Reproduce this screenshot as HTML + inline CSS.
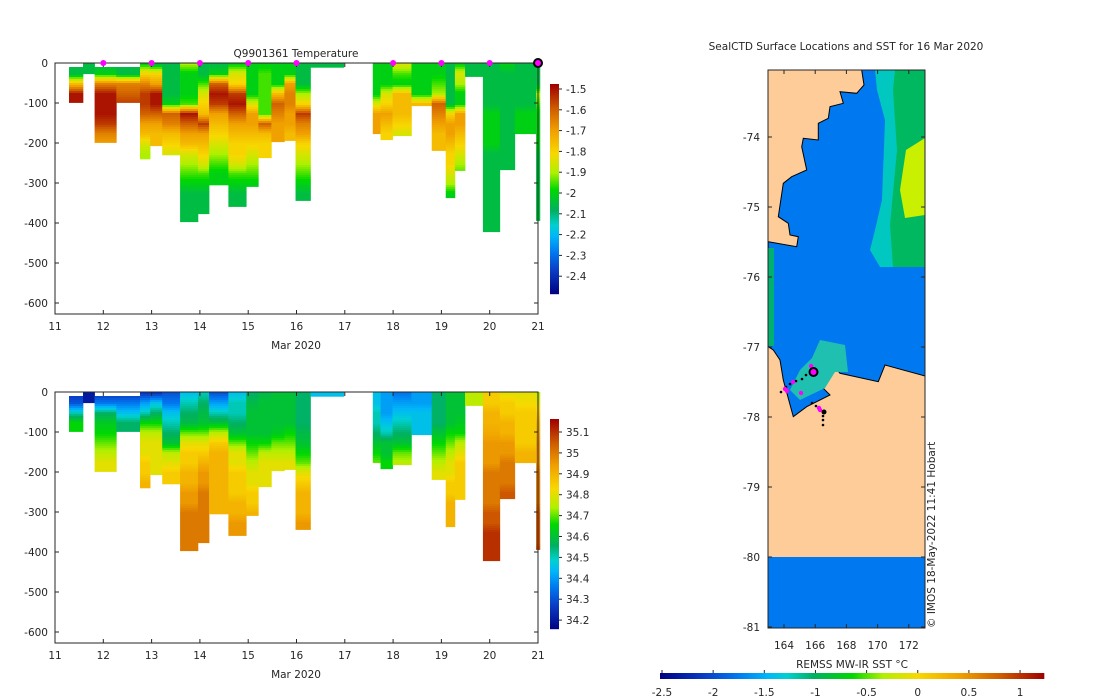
<!DOCTYPE html>
<html><head><meta charset="utf-8"><style>
body{margin:0;background:#fff;}
svg{display:block;font-family:"DejaVu Sans","Liberation Sans",sans-serif;}
text{fill:#262626;font-size:10.5px;}
</style></head><body>
<svg id="svg" width="1100" height="700" viewBox="0 0 1100 700">
<g id="top"></g>
<g id="bot"></g>
<g id="map"></g>
</svg>
<script>
// ---- section data ----
const colStart=[11.29,11.58,11.82,12.27,12.76,12.97,13.22,13.59,13.96,14.19,14.59,14.96,15.21,15.48,15.75,15.98,16.29,17.58,17.74,17.99,18.38,18.80,19.09,19.28,19.49,19.86,20.21,20.52,20.96];
const colEnd=[11.58,11.82,12.27,12.76,12.97,13.22,13.59,13.96,14.19,14.59,14.96,15.21,15.48,15.75,15.98,16.29,16.98,17.74,17.99,18.38,18.80,19.09,19.28,19.49,19.86,20.21,20.52,20.96,21.04];
const colTop=[10,0,10,10,0,0,0,0,0,0,0,0,0,0,0,0,0,0,0,0,0,0,0,0,0,0,0,0,0];
const colBottom=[99,27,199,99,240,207,230,397,377,305,359,309,237,197,194,344,11,177,192,182,107,219,337,269,34,422,267,177,394];
// values every 25 m
const tempProfiles=[
[-2.05,-2.05,-1.75,-1.5,-1.5],
[-2.05,-2.05],
[-2.05,-2.0,-1.65,-1.5,-1.5,-1.5,-1.55,-1.65,-1.7],
[-2.05,-2.05,-1.65,-1.6,-1.55],
[-2.0,-1.8,-1.65,-1.55,-1.55,-1.6,-1.7,-1.75,-1.85,-1.9],
[-2.05,-1.8,-1.7,-1.5,-1.5,-1.6,-1.7,-1.75,-1.75],
[-2.05,-2.05,-2.05,-2.05,-2.0,-1.6,-1.65,-1.75,-1.8,-1.85],
[-1.9,-2.0,-2.0,-2.0,-1.95,-1.5,-1.6,-1.7,-1.75,-1.85,-1.9,-1.95,-2.0,-2.05,-2.05,-2.05,-2.05],
[-2.05,-2.05,-1.95,-1.85,-1.8,-1.75,-1.55,-1.7,-1.75,-1.8,-1.85,-1.95,-2.0,-2.05,-2.05,-2.05],
[-2.05,-2.0,-1.6,-1.5,-1.55,-1.7,-1.75,-1.8,-1.85,-1.9,-1.95,-2.0,-2.0],
[-2.0,-1.85,-1.8,-1.55,-1.5,-1.6,-1.7,-1.75,-1.8,-1.8,-1.85,-1.95,-2.0,-2.05,-2.05],
[-2.0,-2.0,-2.0,-2.0,-1.85,-1.7,-1.7,-1.75,-1.8,-1.85,-1.9,-1.95,-2.0],
[-2.0,-1.95,-1.95,-1.95,-1.95,-1.95,-1.6,-1.75,-1.8,-1.8],
[-2.0,-2.0,-2.0,-1.75,-1.6,-1.65,-1.7,-1.7],
[-2.0,-2.0,-1.7,-1.65,-1.65,-1.7,-1.7,-1.75],
[-2.05,-2.05,-2.05,-1.9,-1.8,-1.55,-1.65,-1.7,-1.8,-1.85,-1.9,-1.95,-2.0,-2.05,-2.05],
[-2.05,-2.05],
[-2.0,-2.0,-2.0,-2.0,-1.85,-1.7,-1.7,-1.7],
[-2.0,-2.0,-2.0,-1.85,-1.8,-1.7,-1.75,-1.8],
[-1.85,-1.95,-2.0,-1.75,-1.75,-1.75,-1.8,-1.85],
[-2.0,-2.0,-2.0,-2.0,-1.75],
[-2.0,-2.0,-1.95,-1.9,-1.6,-1.65,-1.7,-1.75,-1.75],
[-2.05,-2.05,-2.05,-2.05,-2.05,-1.8,-1.7,-1.7,-1.75,-1.8,-1.8,-1.85,-1.9,-2.0],
[-2.0,-1.85,-1.9,-2.0,-2.0,-1.7,-1.7,-1.75,-1.8,-1.85,-1.9,-1.95],
[-2.05,-2.05],
[-2.05,-2.05,-2.05,-2.05,-2.05,-2.0,-2.0,-2.0,-2.0,-2.05,-2.05,-2.05,-2.05,-2.05,-2.05,-2.05,-2.05,-2.05],
[-2.0,-2.05,-2.05,-2.05,-2.05,-2.05,-2.05,-2.05,-2.05,-2.05,-2.05,-2.05],
[-2.05,-2.05,-2.05,-2.05,-2.05,-2.0,-2.0,-2.0],
[-2.05,-2.05,-2.05,-1.9,-1.95,-2.0,-2.0,-2.0,-2.0,-2.05,-2.05,-2.05,-2.05,-2.05,-2.05,-2.05,-2.05]
];
const salProfiles=[
[34.25,34.3,34.5,34.65,34.65],
[34.2,34.2],
[34.25,34.35,34.55,34.62,34.65,34.7,34.75,34.8,34.8],
[34.25,34.35,34.45,34.55,34.55],
[34.25,34.4,34.5,34.65,34.75,34.8,34.8,34.85,34.85,34.9],
[34.25,34.45,34.55,34.65,34.75,34.8,34.8,34.8,34.8],
[34.3,34.35,34.45,34.5,34.55,34.6,34.75,34.8,34.85,34.85],
[34.45,34.5,34.55,34.58,34.7,34.8,34.85,34.85,34.9,34.9,34.95,34.95,35.0,35.0,35.0,35.0,35.0],
[34.5,34.55,34.58,34.6,34.7,34.8,34.85,34.9,34.95,34.95,35.0,35.0,35.0,35.0,35.0,35.0],
[34.3,34.4,34.5,34.6,34.75,34.85,34.9,34.9,34.9,34.9,34.9,34.9,34.9],
[34.45,34.5,34.5,34.55,34.6,34.7,34.8,34.8,34.85,34.85,34.85,34.9,34.9,34.95,34.95],
[34.55,34.58,34.6,34.6,34.6,34.65,34.7,34.75,34.8,34.8,34.85,34.85,34.9],
[34.58,34.6,34.6,34.6,34.6,34.65,34.75,34.8,34.8,34.8],
[34.6,34.6,34.6,34.6,34.62,34.7,34.75,34.8],
[34.6,34.6,34.6,34.6,34.65,34.7,34.75,34.8],
[34.55,34.55,34.55,34.55,34.58,34.6,34.65,34.7,34.8,34.85,34.9,34.9,34.9,34.95,34.95],
[34.45,34.45],
[34.45,34.45,34.5,34.5,34.55,34.6,34.65,34.7],
[34.4,34.4,34.4,34.45,34.5,34.6,34.6,34.65],
[34.35,34.4,34.45,34.5,34.55,34.6,34.7,34.75],
[34.4,34.4,34.45,34.45,34.45],
[34.55,34.55,34.55,34.55,34.6,34.65,34.7,34.75,34.8],
[34.6,34.6,34.6,34.6,34.65,34.7,34.75,34.8,34.8,34.85,34.85,34.9,34.9,34.9],
[34.6,34.6,34.6,34.62,34.65,34.75,34.8,34.85,34.85,34.85,34.85,34.85],
[34.75,34.75],
[34.85,34.85,34.9,34.9,34.92,34.95,34.95,34.95,35.0,35.0,35.0,35.0,35.05,35.05,35.1,35.1,35.1,35.1],
[34.8,34.85,34.85,34.9,34.9,34.95,34.95,35.0,35.0,35.0,35.05,35.05],
[34.8,34.82,34.85,34.85,34.85,34.85,34.9,34.9],
[34.75,34.8,34.85,34.9,34.92,34.95,34.95,34.95,35.0,35.0,35.0,35.0,35.05,35.05,35.05,35.05,35.1]
];
const dayTicks=[11,12,13,14,15,16,17,18,19,20,21];
const depthTicks=[0,-100,-200,-300,-400,-500,-600];
const tempTicks=[-1.5,-1.6,-1.7,-1.8,-1.9,-2,-2.1,-2.2,-2.3,-2.4];
const salTicks=[35.1,35,34.9,34.8,34.7,34.6,34.5,34.4,34.3,34.2];
const surfaceDays=[12,13,14,15,16,18,19,20];
const sstTicks=[-2.5,-2,-1.5,-1,-0.5,0,0.5,1];
const lonTicks=[164,166,168,170,172];
const latTicks=[-74,-75,-76,-77,-78,-79,-80,-81];

const NS='http://www.w3.org/2000/svg';
function el(parent,tag,attrs,txt){const e=document.createElementNS(NS,tag);for(const k in attrs)e.setAttribute(k,attrs[k]);if(txt!==undefined)e.textContent=txt;parent.appendChild(e);return e;}
const stops=[[0,[0,0,128]],[0.12,[10,64,200]],[0.2,[0,120,240]],[0.28,[0,184,248]],[0.33,[0,208,208]],[0.4,[0,176,96]],[0.5,[0,216,0]],[0.58,[176,240,0]],[0.67,[248,216,0]],[0.78,[240,160,0]],[0.88,[208,96,0]],[1,[160,0,0]]];
function cmap(t){t=Math.max(0,Math.min(1,t));for(let i=1;i<stops.length;i++){if(t<=stops[i][0]){const a=stops[i-1],b=stops[i];const f=(t-a[0])/(b[0]-a[0]);const c=a[1].map((v,j)=>Math.round(v+(b[1][j]-v)*f));return `rgb(${c})`;}}return 'rgb(160,0,0)';}

function section(g,y0,vals,vmin,vmax,cbTicks,cbY0,pxPerUnit,refV,dots){
  const xL=55,xR=538,yB=y0+251;
  const xs=d=>xL+(d-11)*(xR-xL)/10;
  const ys=z=>y0+(-z)*0.4;
  for(let i=0;i<colStart.length;i++){
    const prof=vals[i];
    for(let d=colTop[i];d<colBottom[i];d+=5){
      const k=d/25, k0=Math.min(Math.floor(k),prof.length-1),k1=Math.min(k0+1,prof.length-1),f=k-Math.floor(k);
      const v=prof[k0]+(prof[k1]-prof[k0])*Math.min(f,1);
      const r=el(g,'rect',{x:xs(colStart[i]),y:ys(-d),width:xs(colEnd[i])-xs(colStart[i])+0.3,height:Math.min(5,colBottom[i]-d)*0.4+0.3,fill:cmap((v-vmin)/(vmax-vmin))});
      
      
    }
  }
  el(g,'rect',{x:xL,y:y0,width:xR-xL,height:yB-y0,fill:'none',stroke:'#262626','stroke-width':1,});
  dayTicks.forEach(d=>{const x=xs(d);el(g,'line',{x1:x,x2:x,y1:yB,y2:yB-4,stroke:'#262626'});el(g,'line',{x1:x,x2:x,y1:y0,y2:y0+4,stroke:'#262626'});
    const t=el(g,'text',{x:x,y:yB+16,'text-anchor':'middle'},d);});
  depthTicks.forEach(z=>{const y=ys(z);el(g,'line',{x1:xL,x2:xL+4,y1:y,y2:y,stroke:'#262626'});el(g,'line',{x1:xR,x2:xR-4,y1:y,y2:y,stroke:'#262626'});
    const t=el(g,'text',{x:xL-7,y:y+4,'text-anchor':'end'},z);});
  el(g,'text',{x:296,y:yB+35,'text-anchor':'middle',},'Mar 2020');
  const cbTop=cbY0, cbH=210;
  for(let j=0;j<cbH;j++){el(g,'rect',{x:550,y:cbTop+j,width:9,height:1.2,fill:cmap(1-j/cbH)});}
  cbTicks.forEach(v=>{const y=refV(v);el(g,'line',{x1:559,x2:562,y1:y,y2:y,stroke:'#262626'});
    const t=el(g,'text',{x:566,y:y+4},v);});
  if(dots){dots.forEach(d=>{const c=el(g,'circle',{cx:xs(d),cy:y0,r:3,fill:'#ff00ff'});});
    el(g,'circle',{cx:xs(21),cy:y0,r:4,fill:'#ff00ff',stroke:'#000','stroke-width':2,});}
}
const gT=document.getElementById('top');
el(gT,'text',{x:296,y:57,'text-anchor':'middle',},'Q9901361  Temperature');
section(gT,63,tempProfiles,-2.485,-1.475,tempTicks,84,208,v=>89+(-1.5-v)*208,surfaceDays);
const gB=document.getElementById('bot');
section(gB,392,salProfiles,34.15,35.16,salTicks,419,209,v=>432+(35.1-v)*209,null);

// ---- map ----
const gM=document.getElementById('map');
const lx=lon=>784+(lon-164)*15.6, ly=lat=>137+(-74-lat)*70;
el(gM,'text',{x:846,y:50,'text-anchor':'middle',},'SealCTD Surface Locations and SST for 16 Mar 2020');
el(gM,'rect',{x:768,y:70,width:157,height:558,fill:'#fecc99',});
const water='861.7,70 864,85 856.7,93.3 840,91.7 843.3,103.3 830,106.7 828.3,118.3 818.3,123.3 818.3,140 803.3,138.3 801.7,146.7 806.7,170 791.7,176.7 783.3,183.3 778.3,216.7 788.3,223.3 790,235 798.3,236.7 796.7,246.7 768.3,241.7 768.3,346.7 773.3,350 780,360 783.3,380 793.3,416.7 806.7,406.7 830,395 823.3,388.3 820,365 828.3,358.3 840,373.3 878.3,381.7 885,365 925,376 925,70';
el(gM,'polygon',{points:water,fill:'#0078f0',stroke:'#000','stroke-width':1,});
el(gM,'polygon',{points:'875,70 925,70 925,267 880,267 870,250 875,230 882,200 885,120 877,90',fill:'#00c8c0',});
el(gM,'polygon',{points:'895,70 925,70 925,267 893,267 890,225 897,150 893,90',fill:'#00b860',});
el(gM,'polygon',{points:'906,150 925,138 925,215 905,218 900,190',fill:'#c8f000',});
el(gM,'rect',{x:768,y:248,width:6,height:98,fill:'#00b070'});
el(gM,'polygon',{points:'820,340 845,345 848,372 835,372 825,388 800,400 790,390 800,370 812,358',fill:'#20c0b0',});
el(gM,'rect',{x:768,y:557,width:157,height:71,fill:'#0078f0',});
el(gM,'rect',{x:768,y:70,width:157,height:558,fill:'none',stroke:'#262626',});
latTicks.forEach(l=>{const y=ly(l);el(gM,'line',{x1:768,x2:772,y1:y,y2:y,stroke:'#262626'});el(gM,'line',{x1:925,x2:921,y1:y,y2:y,stroke:'#262626'});
  const t=el(gM,'text',{x:760,y:y+4,'text-anchor':'end'},l);});
lonTicks.forEach(l=>{const x=lx(l);el(gM,'line',{x1:x,x2:x,y1:628,y2:624,stroke:'#262626'});el(gM,'line',{x1:x,x2:x,y1:70,y2:74,stroke:'#262626'});
  const t=el(gM,'text',{x:x,y:649,'text-anchor':'middle'},l);});
[[790,384],[796,381],[802,379],[806,375],[786,387],[781,392],[812,403],[816,406],[823,416],[823,420],[823,425]].forEach(p=>{el(gM,'circle',{cx:p[0],cy:p[1],r:1.3,fill:'#000',});});
[[811,366],[793,382],[785,389],[787,391],[801,393],[819,408],[820,410]].forEach(p=>{el(gM,'circle',{cx:p[0],cy:p[1],r:2.2,fill:'#ff00ff',});});
el(gM,'circle',{cx:824,cy:412,r:2.5,fill:'#000'});
el(gM,'circle',{cx:813.5,cy:372,r:4,fill:'#ff00ff',stroke:'#000','stroke-width':2,});
el(gM,'text',{x:0,y:0,transform:'translate(935,628) rotate(-90)','font-size':'10',},'© IMOS 18-May-2022 11:41 Hobart');
el(gM,'text',{x:852,y:668,'text-anchor':'middle',},'REMSS MW-IR SST °C');
const cx=v=>662+(v+2.5)*102.3;
for(let j=0;j<384;j++){el(gM,'rect',{x:660+j,y:673,width:1.3,height:6,fill:cmap(j/384)});}
sstTicks.forEach(v=>{const x=cx(v);el(gM,'line',{x1:x,x2:x,y1:670,y2:673,stroke:'#262626'});
  const t=el(gM,'text',{x:x,y:696,'text-anchor':'middle'},v);});
</script>
</body></html>
